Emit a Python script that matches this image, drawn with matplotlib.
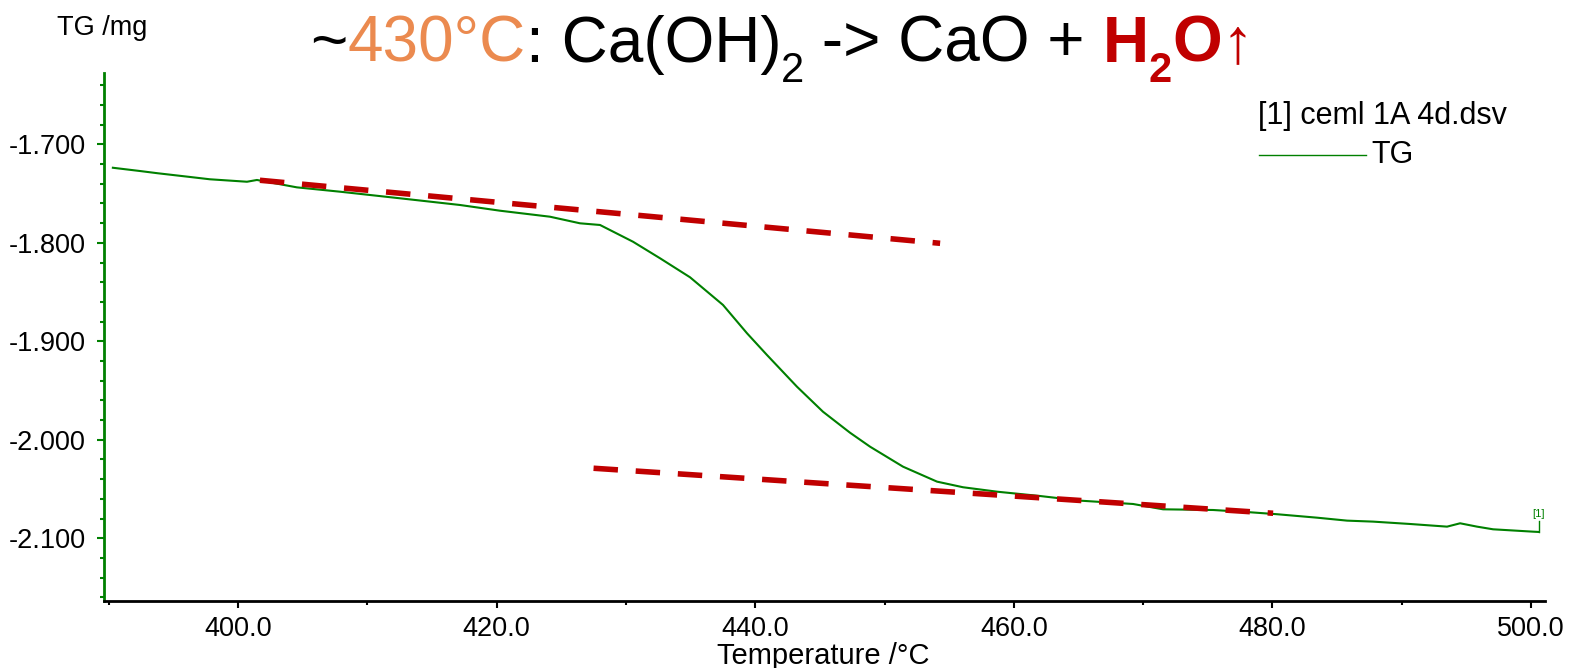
import matplotlib
matplotlib.use("Agg")
import matplotlib.pyplot as plt
from matplotlib.transforms import IdentityTransform
from matplotlib.ticker import MultipleLocator, FormatStrFormatter

plt.rcParams['font.family'] = ['Liberation Sans', 'DejaVu Sans']

# TG curve
temp = [390.33, 392.42, 393.81, 396.13, 397.83, 400.70, 401.47, 404.56, 407.89,
        412.53, 417.17, 420.26, 424.13, 426.45, 428.00, 430.55, 432.64, 434.96,
        437.51, 439.37, 440.91, 443.23, 445.24, 447.33, 448.88, 451.43, 454.06,
        456.07, 458.70, 462.03, 465.12, 469.22, 471.54, 475.41, 478.27, 480.36,
        483.45, 485.77, 487.78, 490.64, 493.50, 494.51, 495.82, 497.06, 500.15,
        500.60]
tg = [-1.7238, -1.7271, -1.7294, -1.7329, -1.7355, -1.7380, -1.7362, -1.7437,
      -1.7481, -1.7548, -1.7616, -1.7674, -1.7735, -1.7802, -1.7819, -1.7989,
      -1.8157, -1.8350, -1.8631, -1.8919, -1.9139, -1.9461, -1.9715, -1.9928,
      -2.0070, -2.0273, -2.0425, -2.0482, -2.0527, -2.0571, -2.0618, -2.0652,
      -2.0706, -2.0713, -2.0736, -2.0756, -2.0791, -2.0821, -2.0831, -2.0855,
      -2.0882, -2.0848, -2.0882, -2.0909, -2.0933, -2.0936]

# tangent lines (before / after the step)
tan1_x = [401.7, 454.3]
tan1_y = [-1.7365, -1.8005]
tan2_x = [427.5, 480.05]
tan2_y = [-2.0289, -2.0746]

green = '#008000'
red = '#C00000'
orange = '#EB8A4F'

fig = plt.figure(figsize=(15.75, 6.68), dpi=100)
ax = fig.add_axes([0.066, 0.1003, 0.915, 0.7904])

ax.plot(temp, tg, color=green, lw=1.5)
for xs, ys in [(tan1_x, tan1_y), (tan2_x, tan2_y)]:
    ax.plot(xs, ys, color=red, lw=4, dashes=(4.4, 3.2), solid_capstyle='butt',
            dash_capstyle='butt')

# end marker "[1]"
ax.plot([temp[-1], temp[-1]], [tg[-1], tg[-1] + 0.011], color=green, lw=1)
ax.text(temp[-1], tg[-1] + 0.013, '[1]', color=green, fontsize=8,
        ha='center', va='bottom')

ax.set_xlim(389.64, 501.08)
ax.set_ylim(-2.1637, -1.6276)

ax.xaxis.set_major_locator(MultipleLocator(20))
ax.xaxis.set_minor_locator(MultipleLocator(10))
ax.xaxis.set_major_formatter(FormatStrFormatter('%.1f'))
ax.yaxis.set_major_locator(MultipleLocator(0.1))
ax.yaxis.set_minor_locator(MultipleLocator(0.02))
ax.yaxis.set_major_formatter(FormatStrFormatter('%.3f'))

for s in ['top', 'right']:
    ax.spines[s].set_visible(False)
ax.spines['left'].set_color(green)
ax.spines['left'].set_linewidth(2)
ax.spines['bottom'].set_color('black')
ax.spines['bottom'].set_linewidth(2)

ax.tick_params(axis='both', which='major', direction='out', length=5, width=1.5,
               labelsize=19.5, pad=8)
ax.tick_params(axis='x', which='major', pad=6)
ax.tick_params(axis='both', which='minor', direction='out', length=3, width=1.5)
ax.tick_params(axis='y', which='both', colors=green, labelcolor='black')
ax.tick_params(axis='x', which='both', colors='black')

fig.text(0.5225, 0.006, 'Temperature /°C', fontsize=21, ha='center', va='baseline')
fig.text(0.036, 0.958, 'TG /mg', fontsize=19.5, ha='left', va='center')

# legend-like block
fig.text(0.7985, 0.826, '[1] ceml 1A 4d.dsv', fontsize=22, ha='left', va='center')
fig.lines.append(plt.Line2D([0.7995, 0.8675], [0.768, 0.768], color=green, lw=1,
                            transform=fig.transFigure))
fig.text(0.8705, 0.768, 'TG', fontsize=22, ha='left', va='center')

# title built piece by piece
fig.canvas.draw()
renderer = fig.canvas.get_renderer()
pieces = [
    ('~', 'black', 'normal', 46, 0),
    ('430°C', orange, 'normal', 46, 0),
    (': Ca(OH)', 'black', 'normal', 46, 0),
    ('2', 'black', 'normal', 30, -20),
    (' -> CaO + ', 'black', 'normal', 46, 0),
    ('H', red, 'bold', 46, 0),
    ('2', red, 'bold', 30, -20),
    ('O', red, 'bold', 46, 0),
    ('↑', red, 'normal', 46, 0),
]
x = 310
base = 606
for txt, col, wt, size, dy in pieces:
    t = fig.text(x, base + dy, txt, color=col, fontweight=wt, fontsize=size,
                 ha='left', va='baseline', transform=IdentityTransform())
    x += t.get_window_extent(renderer).width

fig.savefig('out.png', dpi=100)
